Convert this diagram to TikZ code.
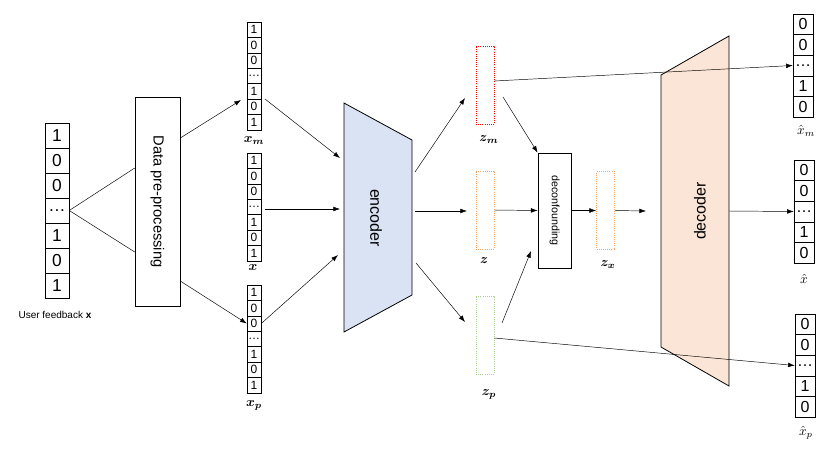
\documentclass[tikz,border=0pt]{standalone}
\usepackage{amsmath,bm}
\usepackage{fontspec}
\setmainfont{Liberation Sans}
\usetikzlibrary{arrows.meta}

\definecolor{encfill}{HTML}{DAE3F3}
\definecolor{decfill}{HTML}{FBE5D6}
\definecolor{zorange}{HTML}{F4A460}
\definecolor{zgreen}{HTML}{A9D18E}

\tikzset{
  cell/.style={draw, inner sep=0pt, anchor=center},
  conn/.style={-{Latex[length=5pt,width=3.5pt]}, line width=0.35pt},
  plain/.style={line width=0.35pt},
  zbox/.style={draw, densely dotted, line width=0.6pt, inner sep=0pt, minimum width=13.5pt, minimum height=58.5pt},
  lbl/.style={inner sep=1pt},
}

% column of cells: name, x, y top, width, height, font, entries
\newcommand\cellcol[7]{%
  \foreach \v [count=\i] in {#7}
    \node[cell, minimum width=#4*0.75pt, minimum height=#5*0.75pt, font=#6] (#1\i) at (#2, {#3+(\i-0.5)*#5}) {\v};}

\begin{document}
\begin{tikzpicture}[x=0.75pt, y=-0.75pt]
  \useasboundingbox (0,0) rectangle (830,454);

  %input
  \cellcol{u}{57}{123}{24}{25}{\fontsize{13}{13}\selectfont}{1,0,0,\textellipsis,1,0,1}
  \node[lbl, font=\fontsize{7.5}{8}\selectfont] (ulbl) at (55,315) {User feedback \textbf{x}};
  \node[draw, minimum width=33.75pt, minimum height=156.75pt, inner sep=0pt] (pre) at (157.5,201.5) {};
  \node[rotate=-90, font=\fontsize{11}{11}\selectfont] at (pre) {Data pre-processing};
  \draw[plain] (u4.east) -- (pre.west |- 0,168);
  \draw[plain] (u4.east) -- (pre.west |- 0,252);

  %three views
  \cellcol{xm}{254}{22}{14}{15.4}{\fontsize{9}{9}\selectfont}{1,0,0,\textellipsis,1,0,1}
  \cellcol{xx}{254}{153}{14}{15.4}{\fontsize{9}{9}\selectfont}{1,0,0,\textellipsis,1,0,1}
  \cellcol{xp}{254}{285}{14}{15.4}{\fontsize{9}{9}\selectfont}{1,0,0,\textellipsis,1,0,1}
  \node[lbl] at (254,141) {$\bm{x_m}$};
  \node[lbl] at (253,268) {$\bm{x}$};
  \node[lbl] at (254,405) {$\bm{x_p}$};
  \draw[conn] (pre.east |- 0,138) -- (241,100);
  \draw[conn] (pre.east |- 0,281) -- (xp3.west);

  %encoder
  \coordinate (e1) at (344,103);
  \coordinate (e2) at (412,140);
  \coordinate (e3) at (412,295);
  \coordinate (e4) at (344,332);
  \draw[fill=encfill, line width=0.6pt] (e1) -- (e2) -- (e3) -- (e4) -- cycle;
  \node[rotate=-90, font=\fontsize{12}{12}\selectfont] (enc) at (376,218) {encoder};
  \draw[conn] (265,99) -- (340,158);
  \draw[conn] (265,209) -- (340,209);
  \draw[conn] (xp3.east) -- (338,255);

  %latent codes
  \node[zbox, draw=red] (zm) at (485,85) {};
  \node[zbox, draw=zorange] (z) at (485,210) {};
  \node[zbox, draw=zgreen] (zp) at (485,335) {};
  \node[lbl] at (489,140) {$\bm{z_m}$};
  \node[lbl] at (484,261) {$\bm{z}$};
  \node[lbl] at (489,394) {$\bm{z_p}$};
  \draw[conn] (415,172) -- (465,98);
  \draw[conn] (415,211) -- (467,211);
  \draw[conn] (416,263) -- (465,322);

  %deconfounding
  \node[draw, line width=0.6pt, minimum width=24.75pt, minimum height=86.25pt, inner sep=0pt] (dec) at (554.5,210.5) {};
  \node[rotate=-90, font=\fontsize{8}{8}\selectfont] at (dec) {deconfounding};
  \draw[conn] (503,97) -- (dec.north west);
  \draw[conn] (502,323) -- (531,251);
  \draw[conn] (z.east) -- (dec.west);
  \node[zbox, draw=zorange] (zx) at (605.5,210.5) {};
  \node[lbl] at (608,265) {$\bm{z_x}$};
  \draw[conn] (dec.east) -- (zx.west);
  \draw[conn] (zx.east) -- (646,211);

  %decoder
  \coordinate (d1) at (661,75);
  \coordinate (d2) at (729,36);
  \coordinate (d3) at (729,386);
  \coordinate (d4) at (661,347);
  \draw[fill=decfill, line width=0.6pt] (d1) -- (d2) -- (d3) -- (d4) -- cycle;
  \node[rotate=90, font=\fontsize{12}{12}\selectfont] (decd) at (700,211) {decoder};

  %outputs
  \cellcol{om}{803}{14}{20}{20.6}{\fontsize{12}{12}\selectfont}{0,0,\textellipsis,1,0}
  \cellcol{ox}{804}{160}{20}{20.6}{\fontsize{12}{12}\selectfont}{0,0,\textellipsis,1,0}
  \cellcol{op}{805}{314}{20}{20.6}{\fontsize{12}{12}\selectfont}{0,0,\textellipsis,1,0}
  \node[lbl] at (806,131) {$\hat{x}_m$};
  \node[lbl] at (804,279) {$\hat{x}$};
  \node[lbl] at (806,433) {$\hat{x}_p$};
  \draw[conn] (zm.east |- 0,81) -- (om3.west);
  \draw[conn] (zp.east |- 0,338) -- (op3.west);
  \draw[conn] (d2 |- 0,211) -- (ox3.west);
\end{tikzpicture}
\end{document}
